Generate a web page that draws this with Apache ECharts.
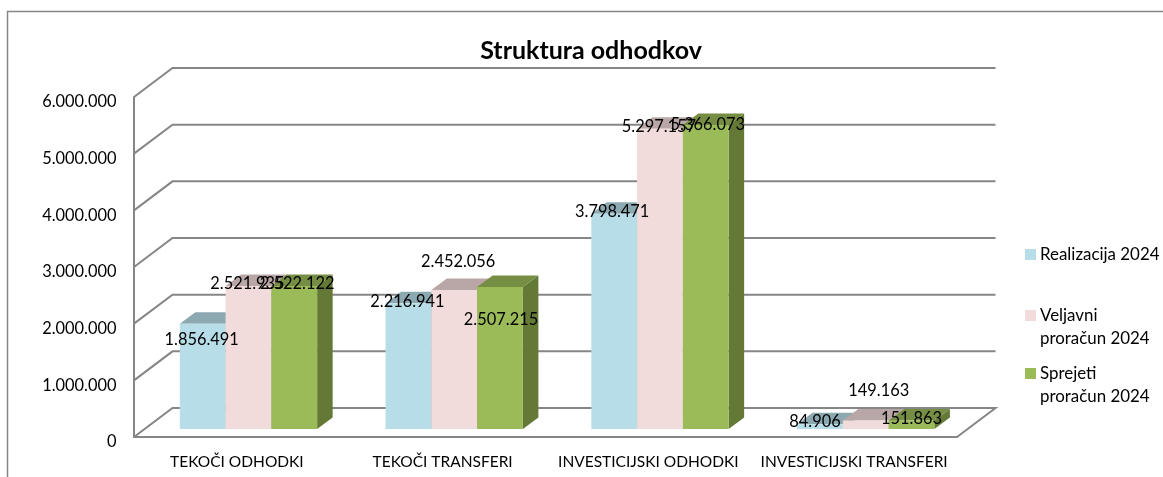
<!DOCTYPE html>
<html>
<head>
    <meta charset="UTF-8">
    <title>Struktura odhodkov</title>
    <style>
        html, body { margin: 0; padding: 0; background: #fff; }
        #main { width: 1163px; height: 477px; }
    </style>
    <script src="https://cdn.jsdelivr.net/npm/echarts@6/dist/echarts.min.js"></script>
</head>
<body>
<div id="main"></div>
<script type="text/javascript">
    var categories = ['TEKOČI ODHODKI', 'TEKOČI TRANSFERI', 'INVESTICIJSKI ODHODKI', 'INVESTICIJSKI TRANSFERI'];
    var realizacija = [1856491, 2216941, 3798471, 84906];
    var veljavni = [2521935, 2452056, 5297157, 149163];
    var sprejeti = [2522122, 2507215, 5366073, 151863];
    var yTicks = [0, 1000000, 2000000, 3000000, 4000000, 5000000, 6000000];

    // hand placed data labels in the original, [dx, dy] from top centre of the bar
    var realizacijaNudge = [[-1, 16], [-1, -2], [-2, -2], [-5, -2]];
    var veljavniNudge = [[-1, -2], [4, -28], [-1, -2], [13, -30]];
    var sprejetiNudge = [[3, -2], [1, 33], [2, 0], [0, -2]];

    var fontName = 'Lato';
    var greyLine = '#868686';

    // pseudo 3D offsets
    var wallDx = 38.5, wallDy = -29;
    var floorDx = 7, floorDy = -8;   // bars stand a bit behind the front edge
    var depthDx = 15.5, depthDy = -11.5;

    function fmt(v) {
        return String(v).replace(/\B(?=(\d{3})+(?!\d))/g, '.');
    }

    function renderWall(params, api) {
        var cs = params.coordSys;
        var y = api.coord([0, api.value(1)])[1];
        var x0 = cs.x, x1 = cs.x + cs.width;
        var pts = [[x0, y], [x0 + wallDx, y + wallDy], [x1 + wallDx, y + wallDy]];
        if (api.value(1) === 0) {
            pts.push([x1, y]);
        }
        return {
            type: 'polyline',
            shape: {points: pts},
            style: {fill: null, stroke: greyLine, lineWidth: 2},
            silent: true
        };
    }

    function makeBarRender(index, front, top, side, nudges) {
        return function (params, api) {
            var band = api.size([1, 0])[0];
            var w = band * 0.2225;
            var p = api.coord([api.value(0), api.value(1)]);
            var base = api.coord([api.value(0), 0]);
            var x = p[0] + floorDx + 4.6 + (index - 1.5) * w;
            var yTop = p[1] + floorDy;
            var yBase = base[1] + floorDy;
            var n = nudges[params.dataIndex];
            return {
                type: 'group',
                children: [{
                    type: 'polygon',
                    shape: {points: [[x + w, yTop], [x + w + depthDx, yTop + depthDy], [x + w + depthDx, yBase + depthDy], [x + w, yBase]]},
                    style: {fill: side}
                }, {
                    type: 'polygon',
                    shape: {points: [[x, yTop], [x + depthDx, yTop + depthDy], [x + w + depthDx, yTop + depthDy], [x + w, yTop]]},
                    style: {fill: top}
                }, {
                    type: 'rect',
                    shape: {x: x, y: yTop, width: w, height: yBase - yTop},
                    style: {fill: front}
                }, {
                    type: 'text',
                    z2: 100,
                    x: x + w / 2 + n[0],
                    y: yTop + n[1],
                    style: {
                        text: fmt(api.value(1)),
                        font: '16.4px ' + fontName,
                        fill: '#000',
                        align: 'center',
                        verticalAlign: 'middle'
                    }
                }]
            };
        };
    }

    function barData(values) {
        return values.map(function (v, i) { return [i, v]; });
    }

    function oneLegend(name, top) {
        return {
            data: [name],
            orient: 'vertical',
            left: 1020,
            top: top,
            itemWidth: 11,
            itemHeight: name.indexOf('\n') > 0 ? 34 : 11,
            itemGap: 0,
            selectedMode: false,
            icon: name.indexOf('\n') > 0 ? 'path://M0,0H11V11H0Z M0,34H0.01V34.01H0Z' : 'rect',
            textStyle: {fontFamily: fontName, fontSize: 16.9, color: '#000', lineHeight: 23, padding: [0, 0, 0, -1]}
        };
    }

    var echart = echarts.init(document.getElementById('main'), null, {renderer: 'canvas'});
    var option = {
        animation: false,
        backgroundColor: '#fff',
        title: {
            text: 'Struktura odhodkov',
            left: 586,
            top: 33,
            textAlign: 'center',
            textStyle: {fontFamily: fontName, fontSize: 25, fontWeight: 'bold', color: '#000'}
        },
        legend: [
            oneLegend('Realizacija 2024', 238),
            oneLegend('Veljavni\nproračun 2024', 299),
            oneLegend('Sprejeti\nproračun 2024', 357)
        ],
        grid: {left: 134, top: 97, width: 823, height: 340},
        xAxis: {
            type: 'category',
            data: categories,
            axisTick: {show: false},
            axisLine: {lineStyle: {color: greyLine, width: 2}},
            axisLabel: {fontFamily: fontName, fontSize: 15.5, color: '#000', margin: 17, interval: 0}
        },
        yAxis: {
            type: 'value',
            min: 0,
            max: 6000000,
            interval: 1000000,
            splitLine: {show: false},
            axisTick: {show: false},
            axisLine: {show: true, lineStyle: {color: greyLine, width: 2}},
            axisLabel: {fontFamily: fontName, fontSize: 16.4, color: '#000', margin: 17.5, verticalAlign: 'top', lineHeight: 10, formatter: fmt}
        },
        graphic: [{
            // chart frame, cut off by the screenshot at right and bottom
            type: 'polyline',
            shape: {points: [[7.5, 477], [7.5, 11.5], [1163, 11.5]]},
            style: {fill: null, stroke: greyLine, lineWidth: 1.5},
            silent: true
        }],
        series: [
            {type: 'custom', name: 'wall', z: 1, renderItem: renderWall, data: yTicks.map(function (t) { return [0, t]; }), silent: true},
            {type: 'custom', name: 'Realizacija 2024', z: 2, itemStyle: {color: '#B7DEE8'}, renderItem: makeBarRender(0, '#B7DEE8', '#8CA8B0', '#6F8B93', realizacijaNudge), data: barData(realizacija)},
            {type: 'custom', name: 'Veljavni\nproračun 2024', z: 2, itemStyle: {color: '#F2DCDB'}, renderItem: makeBarRender(1, '#F2DCDB', '#B8A7A6', '#98898A', veljavniNudge), data: barData(veljavni)},
            {type: 'custom', name: 'Sprejeti\nproračun 2024', z: 2, itemStyle: {color: '#9BBB59'}, renderItem: makeBarRender(2, '#9BBB59', '#768E44', '#637935', sprejetiNudge), data: barData(sprejeti)}
        ]
    };
    echart.setOption(option);
</script>
</body>
</html>
